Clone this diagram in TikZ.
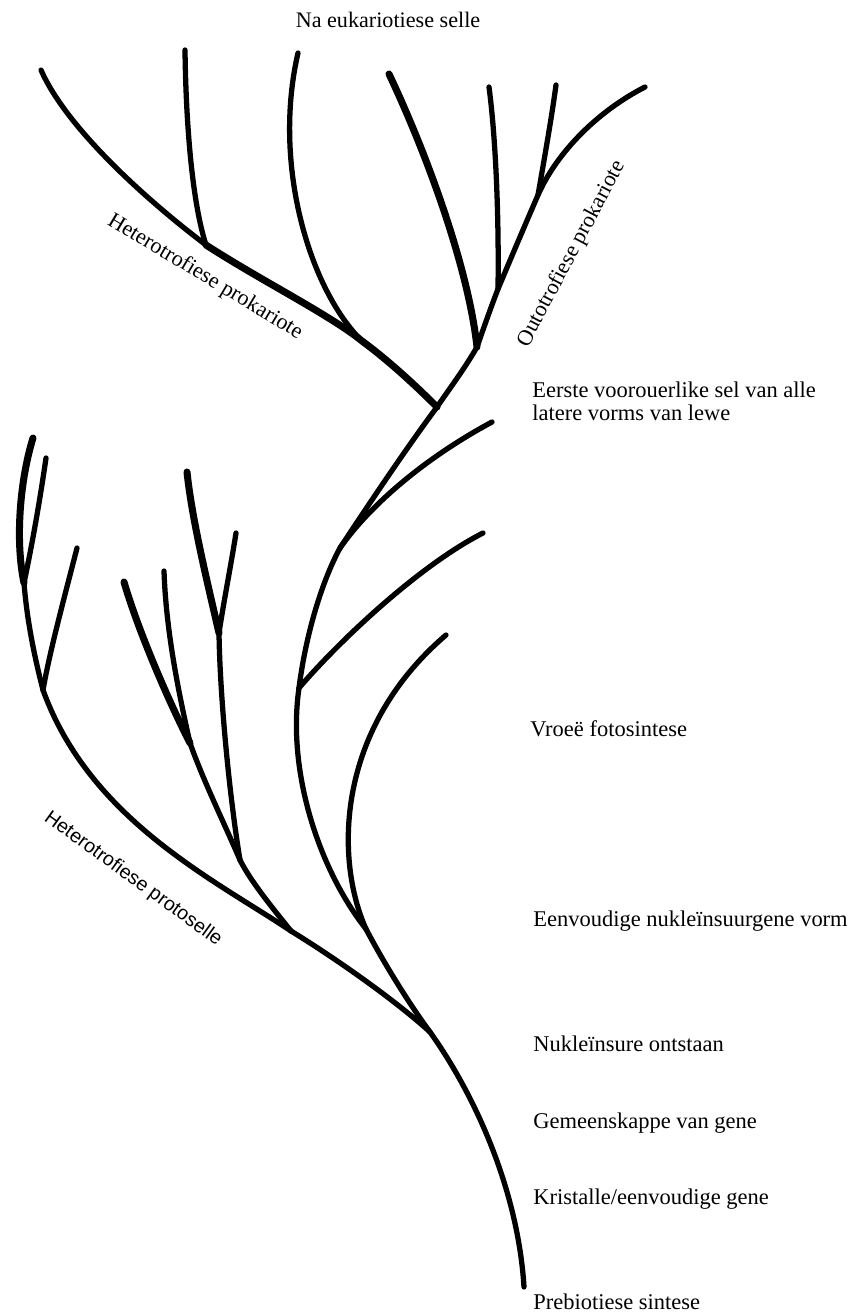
\documentclass[tikz,border=0pt]{standalone}
\usepackage{fontspec}
\setmainfont{Liberation Serif}
\newfontfamily\protofont{Liberation Sans}
\tikzset{stem/.style = {line width = 3pt, line cap = round, line join = round}}
\tikzset{heavy/.style = {stem, line width = 4pt}}
\tikzset{lbl/.style = {anchor = base west, inner sep = 0, align = left, font = \fontsize{12.8}{13}\selectfont}}
\tikzset{tilt/.style = {inner sep = 0, font = \fontsize{12.6}{13}\selectfont}}

\begin{document}
\begin{tikzpicture}[x = 0.02cm, y = -0.02cm]
    \useasboundingbox (0,0) rectangle (850,1314);
    % junctions
    \coordinate (root) at (524,1287);
    \coordinate (j1) at (430,1032);
    \coordinate (j2) at (291,931);
    \coordinate (j3) at (366,929);
    \coordinate (j4) at (43,690);
    \coordinate (j5) at (24,583);
    \coordinate (j6) at (240,860);
    \coordinate (j7) at (219,633);
    \coordinate (j8) at (190,743);
    \coordinate (j9) at (299,688);
    \coordinate (j10) at (340,548);
    \coordinate (ja) at (437,407);
    \coordinate (j11) at (362,341);
    \coordinate (j12) at (206,245);
    \coordinate (j13) at (477,347);
    \coordinate (j14) at (498,289);
    \coordinate (j15) at (538,195);
    % tips
    \coordinate (t1) at (33,438);
    \coordinate (t2) at (46,458);
    \coordinate (t3) at (77,548);
    \coordinate (t4) at (187,472);
    \coordinate (t5) at (236,533);
    \coordinate (t6) at (124,582);
    \coordinate (t7) at (164,571);
    \coordinate (t8) at (446,635);
    \coordinate (t9) at (483,533);
    \coordinate (t10) at (492,422);
    \coordinate (t11) at (41,70);
    \coordinate (t12) at (185,50);
    \coordinate (t13) at (298,53);
    \coordinate (t14) at (389,74);
    \coordinate (t15) at (489,87);
    \coordinate (t16) at (556,85);
    \coordinate (t17) at (645,87);

    \draw[stem] (root) .. controls (518,1190) and (475,1095) .. (j1);
    \draw[stem] (j1) .. controls (395,1000) and (335,958) .. (j2);
    \draw[stem] (j1) .. controls (410,1005) and (385,965) .. (j3);

    \draw[stem] (j2) .. controls (215,880) and (90,820) .. (j4);
    \draw[stem] (j4) .. controls (34,655) and (27,620) .. (j5);
    \draw[heavy] (j5) .. controls (15,540) and (20,480) .. (t1);
    \draw[stem] (j5) .. controls (32,545) and (40,500) .. (t2);
    \draw[stem] (j4) .. controls (50,650) and (65,595) .. (t3);

    \draw[stem] (j2) .. controls (270,905) and (250,880) .. (j6);
    \draw[stem] (j6) .. controls (225,825) and (203,780) .. (j8);
    \draw[stem] (j6) .. controls (230,800) and (220,700) .. (j7);
    \draw[heavy] (j7) .. controls (208,585) and (192,520) .. (t4);
    \draw[stem] (j7) .. controls (224,600) and (231,565) .. (t5);
    \draw[heavy] (j8) .. controls (168,700) and (138,630) .. (t6);
    \draw[stem] (j8) .. controls (178,690) and (166,630) .. (t7);

    \draw[stem] (j3) .. controls (335,860) and (335,730) .. (t8);
    \draw[stem] (j3) .. controls (318,868) and (287,770) .. (j9);
    \draw[stem] (j9) .. controls (340,640) and (420,565) .. (t9);
    \draw[stem] (j9) .. controls (305,640) and (320,585) .. (j10);
    \draw[stem] (j10) .. controls (370,505) and (425,458) .. (t10);
    \draw[stem] (j10) .. controls (365,510) and (405,450) .. (ja);

    \draw[heavy] (ja) .. controls (410,380) and (385,358) .. (j11)
                      .. controls (330,315) and (260,280) .. (j12);
    \draw[stem] (j11) .. controls (310,290) and (272,165) .. (t13);
    \draw[stem] (j12) .. controls (193,205) and (186,130) .. (t12);
    \draw[stem] (j12) .. controls (140,195) and (65,125) .. (t11);

    \draw[stem] (ja) .. controls (450,388) and (465,368) .. (j13);
    \draw[heavy] (j13) .. controls (468,265) and (425,150) .. (t14);
    \draw[stem] (j13) .. controls (484,327) and (491,307) .. (j14)
                      .. controls (508,265) and (525,225) .. (j15)
                      .. controls (558,150) and (600,110) .. (t17);
    \draw[stem] (j14) .. controls (499,220) and (496,140) .. (t15);
    \draw[stem] (j15) .. controls (545,155) and (552,115) .. (t16);

    \node[tilt, anchor = center] (naeuk) at (388,20) {Na eukariotiese selle};
    \node[tilt, rotate = -31] (hetprok) at (205,277) {Heterotrofiese prokariote};
    \node[tilt, rotate = 62] (outprok) at (572,254) {Outotrofiese prokariote};
    \node[tilt, rotate = -36, font = \protofont\fontsize{11.2}{13}\selectfont] (hetproto) at (133,879) {Heterotrofiese protoselle};

    \node[lbl] (eerste) at (532,420) {Eerste voorouerlike sel van alle\\latere vorms van lewe};
    \node[lbl] (vroee) at (530,736) {Vroeë fotosintese};
    \node[lbl] (eenvoudig) at (533,926) {Eenvoudige nukleïnsuurgene vorm};
    \node[lbl] (nukl) at (533,1051) {Nukleïnsure ontstaan};
    \node[lbl] (gemeen) at (533,1128) {Gemeenskappe van gene};
    \node[lbl] (kristal) at (533,1204) {Kristalle/eenvoudige gene};
    \node[lbl] (prebio) at (533,1309) {Prebiotiese sintese};
\end{tikzpicture}
\end{document}
